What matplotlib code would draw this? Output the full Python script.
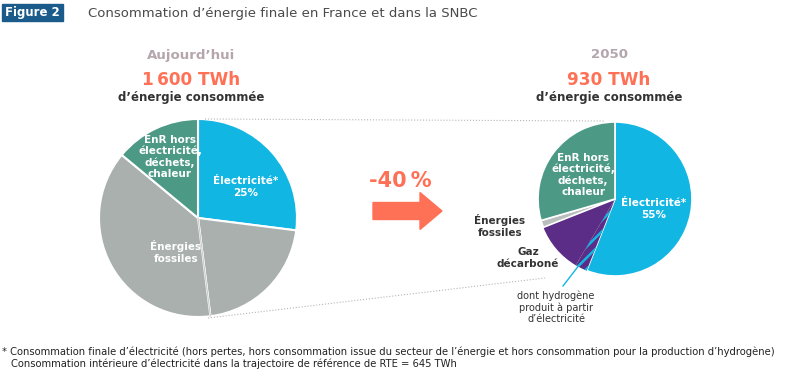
import matplotlib
matplotlib.use("Agg")
import matplotlib.pyplot as plt
from matplotlib.patches import FancyArrow, Rectangle
from matplotlib.lines import Line2D
import numpy as np

plt.rcParams['font.family'] = ['DejaVu Sans']
plt.rcParams['hatch.linewidth'] = 1.8

# ----------------------------------- Data -----------------------------------
# today: electricity, fossil (two parts), EnR
today_labels = ["Électricité*\n25%", "", "Énergies\nfossiles", "EnR hors\nélectricité,\ndéchets,\nchaleur"]
today_values = [27, 21, 38, 14]

# 2050: electricity, hydrogen (from electricity), gas, fossil, EnR
future_labels = ["Électricité*\n55%", "", "Gaz\ndécarboné", "Énergies\nfossiles", "EnR hors\nélectricité,\ndéchets,\nchaleur"]
future_values = [56, 2.5, 10.5, 1.5, 29.5]

totals = ["1\u202f600 TWh", "930 TWh"]
periods = ["Aujourd\u2019hui", "2050"]
change = "-40\u202f%"

CYAN = "#12b6e2"
GREEN = "#4c9a86"
GREY = "#a9b0ad"
LGREY = "#b9bfbd"
PURPLE = "#5b2d86"
CORAL = "#ff7157"
DARK = "#333333"

W, H = 806, 380


def fx(x):
	return x / W


def fy(y):
	return 1 - y / H


fig = plt.figure(figsize=(W / 100, H / 100), dpi=100)

# ----------------------------------- Pies -----------------------------------
ax1 = fig.add_axes([fx(99), fy(317), 198 / W, 198 / H])
w1, _ = ax1.pie(today_values, colors=[CYAN, GREY, GREY, GREEN], startangle=90, counterclock=False,
		wedgeprops=dict(edgecolor="white", linewidth=1.5))
ax1.set_xlim(-1, 1)
ax1.set_ylim(-1, 1)
ax1.axis("off")
# faint split inside the grey part
th = np.deg2rad(w1[1].theta1)
ax1.plot([0, np.cos(th)], [0, np.sin(th)], color="#c8cccb", lw=0.8)

ax2 = fig.add_axes([fx(538), fy(276), 154 / W, 154 / H])
w2, _ = ax2.pie(future_values, colors=[CYAN, PURPLE, PURPLE, LGREY, GREEN], startangle=90, counterclock=False,
		wedgeprops=dict(edgecolor="white", linewidth=1.2))
w2[1].set_hatch("///")
w2[1].set_edgecolor(CYAN)
w2[1].set_linewidth(0)
w2[2].set_linewidth(0)
ax2.set_xlim(-1, 1)
ax2.set_ylim(-1, 1)
ax2.axis("off")

# labels inside/around the pies
lab = dict(ha="center", va="center", fontsize=7.5, fontweight="bold", linespacing=1.15)
fig.text(fx(246), fy(187), today_labels[0], color="white", **lab)
fig.text(fx(176), fy(252), today_labels[2], color="white", **lab)
fig.text(fx(170), fy(157), today_labels[3], color="white", **lab)

fig.text(fx(654), fy(209), future_labels[0], color="white", **lab)
fig.text(fx(583), fy(175), future_labels[4], color="white", **lab)
fig.text(fx(500), fy(226), future_labels[3], color=DARK, **lab)
fig.text(fx(528), fy(258), future_labels[2], color=DARK, **lab)
fig.text(fx(556), fy(307), "dont hydrogène\nproduit à partir\nd\u2019électricité", color=DARK,
		ha="center", va="center", fontsize=7, linespacing=1.15)
fig.add_artist(Line2D([fx(563), fx(580)], [fy(286), fy(264)], color=CYAN, lw=1))

# dotted connectors between the two pies
fig.add_artist(Line2D([fx(205), fx(605)], [fy(119), fy(121)], color="#b5b5b5", lw=0.8, ls=":"))
fig.add_artist(Line2D([fx(208), fx(545)], [fy(318), fy(278)], color="#b5b5b5", lw=0.8, ls=":"))

# ----------------------------------- Headers -----------------------------------
for xc, period, total in zip([191, 609], periods, totals):
	fig.text(fx(xc), fy(55), period, ha="center", va="center", fontsize=9.6, fontweight="bold", color="#b5a6ae")
	fig.text(fx(xc), fy(80), total, ha="center", va="center", fontsize=12.2, fontweight="bold", color=CORAL)
	fig.text(fx(xc), fy(97), "d\u2019énergie consommée", ha="center", va="center", fontsize=8.5,
			fontweight="bold", color=DARK)

fig.text(fx(400), fy(181), change, ha="center", va="center", fontsize=15, fontweight="bold", color=CORAL)
fig.add_artist(FancyArrow(fx(373), fy(211), fx(442) - fx(373), 0, width=17 / H,
		head_width=37 / H, head_length=fx(22), length_includes_head=True,
		color=CORAL, transform=fig.transFigure))

# title
fig.add_artist(Rectangle((fx(2), fy(21)), fx(61), 17 / H, color="#1b5b8b", transform=fig.transFigure))
fig.text(fx(32.5), fy(12.5), "Figure 2", ha="center", va="center", fontsize=8.5, fontweight="bold", color="white")
fig.text(fx(88), fy(14), "Consommation d\u2019énergie finale en France et dans la SNBC",
		ha="left", va="center", fontsize=9.55, color="#4a4a4a")

# footnote
fig.text(fx(2), fy(352), "* Consommation finale d\u2019électricité (hors pertes, hors consommation issue du secteur de "
		"l\u2019énergie et hors consommation pour la production d\u2019hydrogène)",
		ha="left", va="center", fontsize=7.2, color="#222222")
fig.text(fx(11), fy(364), "Consommation intérieure d\u2019électricité dans la trajectoire de référence de RTE = 645 TWh",
		ha="left", va="center", fontsize=7.2, color="#222222")

fig.savefig("out.png", dpi=100)
